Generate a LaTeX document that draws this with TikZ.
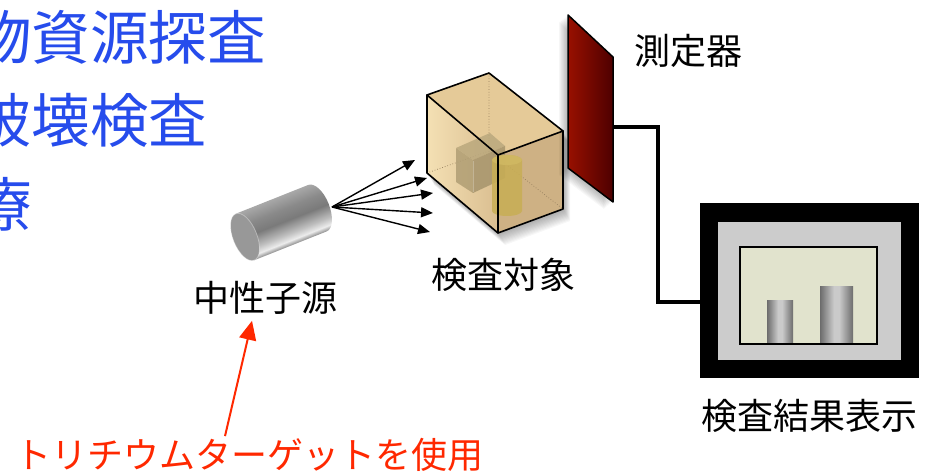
\documentclass[tikz,border=0pt]{standalone}
\usepackage{fontspec}
\newfontfamily\jp{Noto Sans CJK JP}
\usetikzlibrary{arrows.meta,calc}

\definecolor{heading}{RGB}{38,76,236}
\definecolor{notered}{RGB}{255,40,0}
\definecolor{rodA}{RGB}{140,140,140}
\definecolor{rodB}{RGB}{236,236,236}
\definecolor{rodC}{RGB}{190,190,190}
\definecolor{rodD}{RGB}{122,122,122}
\definecolor{rodE}{RGB}{138,138,138}
\definecolor{rodF}{RGB}{168,168,168}
\definecolor{rodcap}{RGB}{152,152,152}
\definecolor{faceL1}{RGB}{244,224,180}
\definecolor{faceL2}{RGB}{218,190,144}
\definecolor{faceT}{RGB}{229,202,152}
\definecolor{faceR}{RGB}{206,177,132}
\definecolor{cubeL}{RGB}{176,158,116}
\definecolor{cubeT}{RGB}{186,168,125}
\definecolor{cubeR}{RGB}{166,148,108}
\definecolor{cylY}{RGB}{200,174,84}
\definecolor{cylYtop}{RGB}{208,184,98}
\definecolor{hidden}{RGB}{150,128,95}
\definecolor{panelL}{RGB}{152,16,0}
\definecolor{panelR}{RGB}{78,0,0}
\definecolor{bezel}{RGB}{204,204,204}
\definecolor{screen}{RGB}{225,227,205}
\definecolor{barD}{RGB}{108,108,108}
\definecolor{barL}{RGB}{202,202,202}

% shading across the neutron source rod (bottom edge -> top edge)
\pgfdeclareverticalshading{rodshade}{100bp}{%
  color(0bp)=(rodA); color(25bp)=(rodA); color(30bp)=(rodB);
  color(37bp)=(rodC); color(50bp)=(rodD); color(62bp)=(rodE);
  color(75bp)=(rodF); color(100bp)=(rodF)}
% shading across a bar of the result chart
\pgfdeclarehorizontalshading{barshade}{100bp}{%
  color(0bp)=(barD); color(25bp)=(barD); color(46bp)=(barL);
  color(54bp)=(barL); color(75bp)=(barD); color(100bp)=(barD)}

\begin{document}
\begin{tikzpicture}[x=1pt,y=1pt,
  bluetxt/.style={anchor=base west,inner sep=0pt,text=heading,
    font=\jp\fontsize{58.5}{60}\selectfont},
  lbl/.style={inner sep=0pt,font=\jp\fontsize{36}{40}\selectfont},
  notetxt/.style={lbl,text=notered},
  ray/.style={line width=1.4pt,-{Triangle[length=12pt,width=10pt]}},
  notearrow/.style={notered,line width=2pt,-{Triangle[length=19pt,width=17pt]}},
  edge/.style={line width=1.6pt,line join=round,line cap=round},
  hiddenedge/.style={hidden,line width=0.7pt,dotted},
  wire/.style={line width=4pt,line join=miter}]
\useasboundingbox (0,0) rectangle (926,474);

% ---------- applications list ----------
\node[bluetxt] (app1) at (-27,414) {物資源探査};
\node[bluetxt] (app2) at (-27,331) {破壊検査};
\node[bluetxt] (app3) at (-27,247) {療};

% ---------- neutron source rod ----------
\begin{scope}[transform canvas={shift={(245,237)},rotate=21.7}]
  \shade[shading=rodshade] (0,-25) -- (78,-25)
    arc[start angle=-90,end angle=90,x radius=12,y radius=25] -- (0,25) -- cycle;
  \fill[rodcap] (0,0) ellipse[x radius=12,y radius=25];
  \draw[white,opacity=.35,line width=0.8pt] (0,0) ellipse[x radius=12,y radius=25];
\end{scope}
\coordinate (src) at (332,267);
\node[lbl] (srclbl) at (265,176) {中性子源};

% ---------- object under inspection ----------
\coordinate (FTL) at (427,379); \coordinate (FTR) at (498,319);
\coordinate (BTR) at (563,343); \coordinate (BTL) at (489,401);
\coordinate (FBL) at (427,301); \coordinate (FBR) at (498,241);
\coordinate (BBR) at (563,265); \coordinate (BBL) at (489,323);

% soft shadow of the box
\foreach \s in {1,...,12}{
  \begin{scope}[shift={(\s*0.6,-\s*1.0)}]
    \fill[black,opacity=0.03] (427,379) -- (489,401) -- (563,343) -- (563,265)
      -- (498,241) -- (427,301) -- cycle;
  \end{scope}}

% faces
\shade[left color=faceL1,right color=faceL2] (FTL) -- (FTR) -- (FBR) -- (FBL) -- cycle;
\fill[faceT] (FTL) -- (BTL) -- (BTR) -- (FTR) -- cycle;
\fill[faceR] (FTR) -- (BTR) -- (BBR) -- (FBR) -- cycle;

% hidden edges
\draw[hiddenedge] (BTL) -- (BBL) -- (FBL);
\draw[hiddenedge] (BBL) -- (BBR);

% contents: small cube and cylinder seen through the walls
\fill[cubeL,opacity=.85] (456,326) -- (473,314) -- (473,281) -- (456,292) -- cycle;
\fill[cubeT,opacity=.85] (456,326) -- (490,341) -- (505,328) -- (473,314) -- cycle;
\fill[cubeR,opacity=.85] (473,314) -- (505,328) -- (505,296) -- (473,281) -- cycle;
\draw[white,opacity=.25,line width=1pt] (473,313) -- (473,282);
\fill[cylY,opacity=.85] (492,314) -- (492,263) arc[start angle=180,end angle=360,x radius=15,y radius=5]
  -- (522,314) arc[start angle=0,end angle=180,x radius=15,y radius=5] -- cycle;
\fill[cylYtop,opacity=.9] (507,314) ellipse[x radius=15,y radius=5];

% outline
\draw[edge] (FTL) -- (BTL) -- (BTR) -- (FTR) -- cycle;
\draw[edge] (FTR) -- (FBR) -- (FBL) -- (FTL);
\draw[edge] (BTR) -- (BBR) -- (FBR);
\node[lbl] (objlbl) at (503,199) {検査対象};

% ---------- neutron rays ----------
\coordinate (t1) at (415,314); \coordinate (t2) at (427,296);
\coordinate (t3) at (433,281); \coordinate (t4) at (433,261);
\coordinate (t5) at (430,242);
\foreach \t in {t1,t2,t3,t4,t5} \draw[ray] (src) -- (\t);

% ---------- detector panel ----------
\foreach \s in {1,...,10}{
  \begin{scope}[shift={(-\s*0.9,-\s*0.7)}]
    \fill[black,opacity=0.03] (568,459) -- (613,417) -- (613,272) -- (568,306) -- cycle;
  \end{scope}}
\shade[left color=panelL,right color=panelR,draw=black,line width=1.5pt,line join=round]
  (568,459) -- (613,417) -- (613,272) -- (568,306) -- cycle;
\coordinate (detout) at (613,347);
\node[lbl,anchor=west] (detlbl) at (634,423) {測定器};

% ---------- result display ----------
\fill[black] (700,96) rectangle (919,271);
\fill[bezel] (718,114) rectangle (901,252);
\fill[screen] (740,130) rectangle (877,227);
\shade[shading=barshade] (767,130) rectangle (793,173);
\shade[shading=barshade] (820,130) rectangle (853,187);
\draw[black,line width=1.2pt] (740,130) rectangle (877,227);
\coordinate (dispin) at (700,172);
\node[lbl] (displbl) at (809,58) {検査結果表示};

% cable from detector to display
\draw[wire] (detout) -- ++(45,0) |- (dispin);

% ---------- note on the source ----------
\node[notetxt] (note) at (249,19) {トリチウムターゲットを使用};
\draw[notearrow] ($(note.north)+(-24,2)$) -- ($(srclbl.south)+(-13,-6)$);
\end{tikzpicture}
\end{document}
